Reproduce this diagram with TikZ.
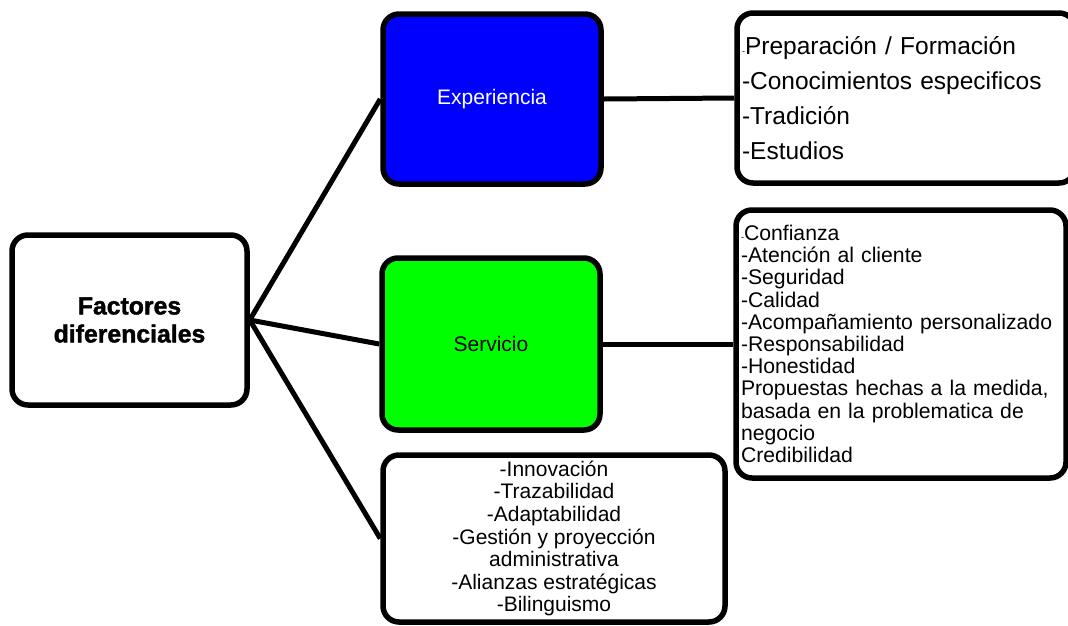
\documentclass[tikz,border=0pt]{standalone}
\usepackage{fontspec}
\setmainfont{Liberation Sans}
\newfontfamily\heavyfont[FakeBold=1.6]{Liberation Sans Bold}
\definecolor{expblue}{HTML}{0000FF}
\definecolor{sergreen}{HTML}{00FF00}
\newcommand{\smalldash}{{\fontsize{9}{9}\selectfont -}}
\begin{document}
\begin{tikzpicture}[x=1pt,y=-1pt,
  box/.style={draw=black, fill=white, line width=5.5pt, rounded corners=16pt, inner sep=0pt},
  link/.style={draw=black, line width=5pt}]
\clip (0,0) rectangle (1068,625);

% root
\node[box, minimum width=235pt, minimum height=170pt, align=center,
      font=\heavyfont\fontsize{24.8}{28}\selectfont] (fac) at (129.5,320)
  {Factores\\diferenciales};

% second level
\node[box, fill=expblue, text=white, minimum width=218pt, minimum height=170pt,
      font=\fontsize{21}{24}\selectfont] (exp) at (492,99) {Experiencia};
\node[box, fill=sergreen, minimum width=218pt, minimum height=172pt,
      font=\fontsize{21}{24}\selectfont] (ser) at (491,344) {Servicio};
\node[box, minimum width=342pt, minimum height=167pt, align=center,
      font=\fontsize{21}{22.6}\selectfont] (otr) at (554,538.5)
  {-Innovación\\-Trazabilidad\\-Adaptabilidad\\-Gestión y proyección\\administrativa\\-Alianzas estratégicas\\-Bilinguismo};

% detail boxes
\node[box, minimum width=338pt, minimum height=170pt, inner xsep=5pt,
      text width=328pt, align=left, font=\fontsize{24.5}{35}\selectfont] (det1) at (906,98)
  {\smalldash Preparación / Formación\\-Conocimientos especificos\\-Tradición\\-Estudios};
\node[box, minimum width=330pt, minimum height=268pt, inner xsep=5pt,
      text width=320pt, align=left, font=\fontsize{21.2}{22.2}\selectfont] (det2) at (901,344)
  {\smalldash Confianza\\-Atención al cliente\\-Seguridad\\-Calidad\\-Acompañamiento personalizado\\-Responsabilidad\\-Honestidad\\Propuestas hechas a la medida,\\basada en la problematica de\\negocio\\Credibilidad};

% connectors
\draw[link] (fac.east) -- (exp.west);
\draw[link] (fac.east) -- (ser.west);
\draw[link] (fac.east) -- (otr.west);
\draw[link] (exp.east) -- (det1.west);
\draw[link] (ser.east) -- (det2.west);
\end{tikzpicture}
\end{document}
